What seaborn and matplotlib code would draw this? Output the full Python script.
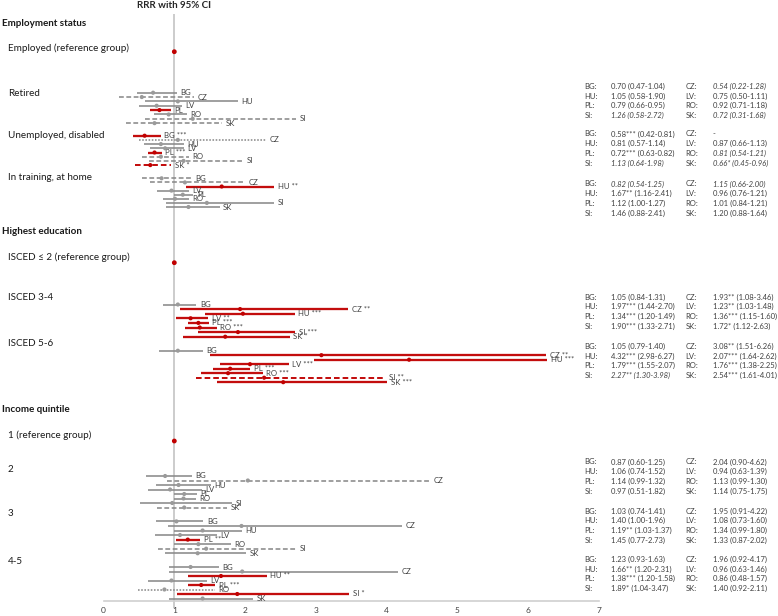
import numpy as np
import pandas as pd
import seaborn as sns
import matplotlib.pyplot as plt
from matplotlib.transforms import blended_transform_factory

countries = ["BG", "CZ", "HU", "LV", "PL", "RO", "SI", "SK"]
groups = ["Retired", "Unemployed, disabled", "In training, at home",
          "ISCED 3-4", "ISCED 5-6", "2", "3", "4-5"]
sections = ["Employment status", "Highest education", "Income quintile"]
references = ["Employed (reference group)", "ISCED \u2264 2 (reference group)",
              "1 (reference group)"]

# relative risk ratios and 95% CI, one row per group, columns = countries
rrr = [
    [0.70, 0.54, 1.05, 0.75, 0.79, 0.92, 1.26, 0.72],
    [0.58, 1.05, 0.81, 0.87, 0.72, 0.81, 1.13, 0.66],
    [0.82, 1.15, 1.67, 0.96, 1.12, 1.01, 1.46, 1.20],
    [1.05, 1.93, 1.97, 1.23, 1.34, 1.36, 1.90, 1.72],
    [1.05, 3.08, 4.32, 2.07, 1.79, 1.76, 2.27, 2.54],
    [0.87, 2.04, 1.06, 0.94, 1.14, 1.13, 0.97, 1.14],
    [1.03, 1.95, 1.40, 1.08, 1.19, 1.34, 1.45, 1.33],
    [1.23, 1.96, 1.66, 0.96, 1.38, 0.86, 1.89, 1.40],
]
ci_lo = [
    [0.47, 0.22, 0.58, 0.50, 0.66, 0.71, 0.58, 0.31],
    [0.42, 0.50, 0.57, 0.66, 0.63, 0.54, 0.64, 0.45],
    [0.54, 0.66, 1.16, 0.76, 1.00, 0.84, 0.88, 0.88],
    [0.84, 1.08, 1.44, 1.03, 1.20, 1.15, 1.33, 1.12],
    [0.79, 1.51, 2.98, 1.64, 1.55, 1.38, 1.30, 1.61],
    [0.60, 0.90, 0.74, 0.63, 0.99, 0.99, 0.51, 0.75],
    [0.74, 0.91, 1.00, 0.73, 1.03, 0.99, 0.77, 0.87],
    [0.93, 0.92, 1.20, 0.63, 1.20, 0.48, 1.04, 0.92],
]
ci_hi = [
    [1.04, 1.28, 1.90, 1.11, 0.95, 1.18, 2.72, 1.68],
    [0.81, 2.30, 1.14, 1.13, 0.82, 1.21, 1.98, 0.96],
    [1.25, 2.00, 2.41, 1.21, 1.27, 1.21, 2.41, 1.64],
    [1.31, 3.46, 2.70, 1.48, 1.49, 1.60, 2.71, 2.63],
    [1.40, 6.26, 6.27, 2.62, 2.07, 2.25, 3.98, 4.01],
    [1.25, 4.62, 1.52, 1.39, 1.32, 1.30, 1.82, 1.75],
    [1.41, 4.22, 1.96, 1.60, 1.37, 1.80, 2.73, 2.02],
    [1.63, 4.17, 2.31, 1.46, 1.58, 1.57, 3.47, 2.11],
]
stars = [
    ["", "", "", "", "", "", "", ""],
    ["***", "", "", "", "***", "", "", "*"],
    ["", "", "**", "", "", "", "", ""],
    ["", "**", "***", "**", "***", "***", "***", "*"],
    ["", "**", "***", "***", "***", "***", "**", "***"],
    ["", "", "", "", "", "", "", ""],
    ["", "", "", "", "**", "", "", ""],
    ["", "", "**", "", "***", "", "*", ""],
]
line_style = [
    ["-", "--", "-", "-", "-", "-", "--", "--"],
    ["-", ":", "-", "-", "-", "--", "--", "--"],
    ["--", "--", "-", "-", "-", "-", "-", "-"],
    ["-", "-", "-", "-", "-", "-", "-", "-"],
    ["-", "-", "-", "-", "-", "-", "--", "-"],
    ["-", "--", "-", "-", "-", "-", "-", "--"],
    ["-", "-", "-", "-", "-", "-", "--", "-"],
    ["-", "-", "-", "-", "-", ":", "-", "-"],
]
italic_cells = [(0, "CZ"), (0, "SI"), (0, "SK"), (1, "RO"), (1, "SI"), (1, "SK"),
                (2, "BG"), (2, "CZ"), (4, "SI")]
no_estimate = [(1, "CZ")]

# layout (pixel rows from top of figure)
first_row = [92.7, 135.7, 178.3, 304.5, 350.7, 476.0, 521.4, 567.0]
row_step = [4.35, 4.2, 4.1, 4.6, 4.5, 4.5, 4.55, 4.5]
label_y = [93, 135, 177, 298, 343, 469, 514, 561]
table_y = [86.5, 134, 184, 297, 346.5, 462, 511, 559.5]
section_y = [23, 231, 409]
ref_label_y = [48.5, 257, 435.5]
ref_point_y = [51.7, 262.7, 441]

RED = "#C00000"
GREY = "#8A8A8A"
TXT = "#404040"

rows = []
for g in range(len(groups)):
    for i, c in enumerate(countries):
        rows.append(dict(group=g, country=c, rrr=rrr[g][i], lo=ci_lo[g][i],
                         hi=ci_hi[g][i], stars=stars[g][i], ls=line_style[g][i],
                         y=first_row[g] + i * row_step[g]))
df = pd.DataFrame(rows)
df["sig"] = (df["lo"] > 1) | (df["hi"] < 1)

sns.set_theme(style="white")
plt.rcParams["font.family"] = ["Lato", "DejaVu Sans"]

fig = plt.figure(figsize=(7.78, 6.16), dpi=100)
ax = fig.add_axes([103.6 / 778, 15 / 616, 495 / 778, 601 / 616])
ax.set_xlim(0, 7)
ax.set_ylim(601, 0)

ax.vlines(1, 14, 608, color="#C8C8C8", lw=1.3, zorder=0, clip_on=False)

dash = {"-": "solid", "--": (0, (3, 1.6)), ":": (0, (1, 1))}
for _, r in df.iterrows():
    col = RED if r.sig else GREY
    lw = 1.35 if r.sig else 1.15
    if r.sig and r.ls == "-":
        ax.hlines(r.y, r.lo, r.hi, color="#F5D3D3", lw=2.6, zorder=1)
    ax.hlines(r.y, r.lo, r.hi, color=col, lw=lw, linestyles=dash[r.ls], zorder=2)
    lab = (r.country + " " + r.stars).strip()
    ax.text(r.hi + 0.05, r.y, lab, fontsize=5.6, color=TXT, va="center", ha="left")

sns.scatterplot(data=df, x="rrr", y="y", hue="sig", palette={True: RED, False: "#9A9A9A"},
                s=9, edgecolor="none", legend=False, zorder=3, ax=ax)
ref_df = pd.DataFrame({"x": [1.0] * len(ref_point_y), "y": ref_point_y})
sns.scatterplot(data=ref_df, x="x", y="y", color=RED, s=12, edgecolor="none",
                zorder=3, ax=ax)

ax.text(1, 5.5, "RRR with 95% CI", fontsize=7, fontweight="bold", ha="center",
        va="center", color="#262626")

# left-hand labels
tleft = blended_transform_factory(fig.transFigure, ax.transData)
for s, y in zip(sections, section_y):
    ax.text(2 / 778, y, s, transform=tleft, fontsize=7.1, fontweight="bold",
            va="center", color="#1a1a1a")
for s, y in zip(references, ref_label_y):
    ax.text(8 / 778, y, s, transform=tleft, fontsize=7.1, va="center", color="#1a1a1a")
for s, y in zip(groups, label_y):
    ax.text(8 / 778, y, s, transform=tleft, fontsize=7.1, va="center", color="#1a1a1a")

# right-hand table of estimates
col_x = [(584.5, 611), (685.5, 713)]
for g in range(len(groups)):
    for i, c in enumerate(countries):
        lx, vx = col_x[i % 2]
        y = table_y[g] + (i // 2) * 9.7
        if (g, c) in no_estimate:
            val = "-"
        else:
            val = f"{rrr[g][i]:.2f}{stars[g][i]} ({ci_lo[g][i]:.2f}-{ci_hi[g][i]:.2f})"
        style = "italic" if (g, c) in italic_cells else "normal"
        ax.text(lx / 778, y, c + ":", transform=tleft, fontsize=5.5, va="center", color=TXT)
        ax.text(vx / 778, y, val, transform=tleft, fontsize=5.5, va="center",
                color=TXT, fontstyle=style)

ax.set_xticks(range(8))
ax.set_yticks([])
ax.set_xlabel("")
ax.set_ylabel("")
ax.tick_params(axis="x", length=0, pad=4, labelsize=6, colors=TXT)
for side in ["top", "left", "right"]:
    ax.spines[side].set_visible(False)
ax.spines["bottom"].set_color("#D0D0D0")
ax.spines["bottom"].set_linewidth(1.2)

fig.savefig("out.png", dpi=100)
